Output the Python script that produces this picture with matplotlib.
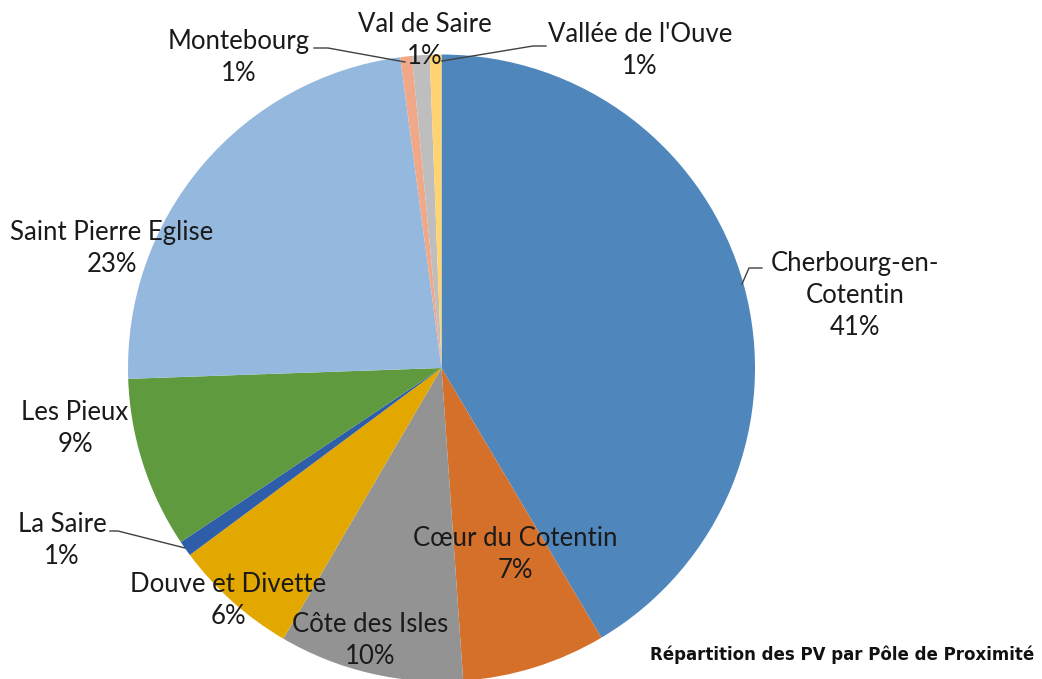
import matplotlib
matplotlib.use("Agg")
import matplotlib.pyplot as plt

categories = ["Cherbourg-en-\nCotentin", "Cœur du Cotentin", "Côte des Isles", "Douve et Divette",
              "La Saire", "Les Pieux", "Saint Pierre Eglise", "Montebourg", "Val de Saire",
              "Vallée de l'Ouve"]
values = [41.4, 7.4, 9.5, 6.4, 0.8, 8.8, 23.4, 0.6, 0.9, 0.6]
colors = ["#4F87BD", "#D5702B", "#939393", "#E3A800", "#2E5DAA", "#5F9A3E",
          "#95B8DE", "#F0A889", "#BEBEBE", "#FFD470"]
title = "Répartition des PV par Pôle de Proximité"

W, H = 1042, 679
CX, CY, R = 441.5, 368.0, 313.5

fig = plt.figure(figsize=(W / 100, H / 100), dpi=100)
ax = fig.add_axes([0, 0, 1, 1])

ax.pie(values, colors=colors, startangle=90, counterclock=False, radius=1.0,
       center=(0, 0), wedgeprops=dict(linewidth=0), frame=True)
ax.set_xlim(-CX / R, (W - CX) / R)
ax.set_ylim(-(H - CY) / R, CY / R)
ax.set_aspect("auto")
ax.axis("off")


def px(x, y):
    return ((x - CX) / R, (CY - y) / R)


total = sum(values)
pcts = [f"{v / total * 100:.0f}%" for v in values]

label_pos = [(855, 295), (515, 555), (370, 640), (228, 600), (62, 540),
             (75, 428), (112, 248), (239, 57), (425, 40), (640, 50)]

font = dict(family=["Lato", "DejaVu Sans"], fontsize=18.5, color="#1a1a1a",
            ha="center", va="center", linespacing=1.35)
for cat, p, (x, y) in zip(categories, pcts, label_pos):
    ax.text(*px(x, y), f"{cat}\n{p}", **font)

leaders = [
    [(742, 284), (749, 268), (762, 268)],
    [(110, 531), (118, 531), (185, 548)],
    [(314, 48), (328, 48), (405, 62)],
    [(546, 46), (533, 46), (442, 61)],
]
for pts in leaders:
    xs, ys = zip(*[px(a, b) for a, b in pts])
    ax.plot(xs, ys, color="#404040", lw=1.0)

ax.text(*px(842, 655), title, fontsize=12, fontweight="bold",
        family=["DejaVu Sans"], color="#111111", ha="center", va="center")

fig.savefig("out.png", dpi=100)
